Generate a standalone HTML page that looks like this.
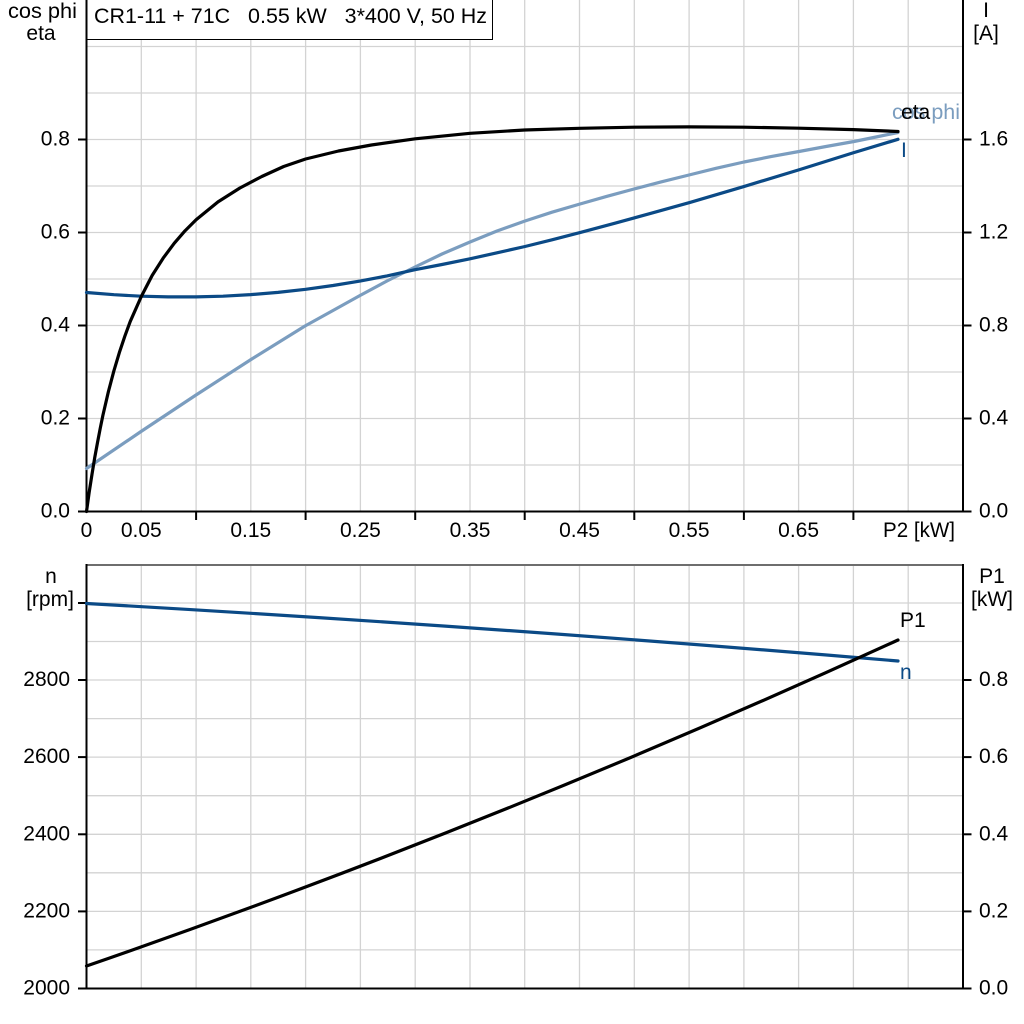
<!DOCTYPE html>
<html>
<head>
<meta charset="utf-8">
<style>
  html, body { margin: 0; padding: 0; background: #ffffff; }
  svg { display: block; }
  text { font-family: "Liberation Sans", Arial, sans-serif; font-size: 21px; fill: #000; }
</style>
</head>
<body>
<svg width="1024" height="1024" viewBox="0 0 1024 1024" xmlns="http://www.w3.org/2000/svg">
  <rect x="0" y="0" width="1024" height="1024" fill="#ffffff"/>

  <!-- ============ TOP PANEL GRID ============ -->
  <g stroke="#d3d3d3" stroke-width="1.3" fill="none">
    <line x1="141.3" y1="0" x2="141.3" y2="511.5"/>
    <line x1="196.1" y1="0" x2="196.1" y2="511.5"/>
    <line x1="250.8" y1="0" x2="250.8" y2="511.5"/>
    <line x1="305.6" y1="0" x2="305.6" y2="511.5"/>
    <line x1="360.4" y1="0" x2="360.4" y2="511.5"/>
    <line x1="415.2" y1="0" x2="415.2" y2="511.5"/>
    <line x1="470" y1="0" x2="470" y2="511.5"/>
    <line x1="524.7" y1="0" x2="524.7" y2="511.5"/>
    <line x1="579.5" y1="0" x2="579.5" y2="511.5"/>
    <line x1="634.3" y1="0" x2="634.3" y2="511.5"/>
    <line x1="689.1" y1="0" x2="689.1" y2="511.5"/>
    <line x1="743.9" y1="0" x2="743.9" y2="511.5"/>
    <line x1="798.6" y1="0" x2="798.6" y2="511.5"/>
    <line x1="853.4" y1="0" x2="853.4" y2="511.5"/>
    <line x1="908.2" y1="0" x2="908.2" y2="511.5"/>
    <line x1="86.5" y1="465" x2="963" y2="465"/>
    <line x1="86.5" y1="418.5" x2="963" y2="418.5"/>
    <line x1="86.5" y1="372" x2="963" y2="372"/>
    <line x1="86.5" y1="325.5" x2="963" y2="325.5"/>
    <line x1="86.5" y1="279" x2="963" y2="279"/>
    <line x1="86.5" y1="232.5" x2="963" y2="232.5"/>
    <line x1="86.5" y1="186" x2="963" y2="186"/>
    <line x1="86.5" y1="139.5" x2="963" y2="139.5"/>
    <line x1="86.5" y1="93" x2="963" y2="93"/>
    <line x1="86.5" y1="46.5" x2="963" y2="46.5"/>
  </g>

  <!-- ============ BOTTOM PANEL GRID ============ -->
  <g stroke="#d3d3d3" stroke-width="1.3" fill="none">
    <line x1="141.3" y1="565" x2="141.3" y2="988.5"/>
    <line x1="196.1" y1="565" x2="196.1" y2="988.5"/>
    <line x1="250.8" y1="565" x2="250.8" y2="988.5"/>
    <line x1="305.6" y1="565" x2="305.6" y2="988.5"/>
    <line x1="360.4" y1="565" x2="360.4" y2="988.5"/>
    <line x1="415.2" y1="565" x2="415.2" y2="988.5"/>
    <line x1="470" y1="565" x2="470" y2="988.5"/>
    <line x1="524.7" y1="565" x2="524.7" y2="988.5"/>
    <line x1="579.5" y1="565" x2="579.5" y2="988.5"/>
    <line x1="634.3" y1="565" x2="634.3" y2="988.5"/>
    <line x1="689.1" y1="565" x2="689.1" y2="988.5"/>
    <line x1="743.9" y1="565" x2="743.9" y2="988.5"/>
    <line x1="798.6" y1="565" x2="798.6" y2="988.5"/>
    <line x1="853.4" y1="565" x2="853.4" y2="988.5"/>
    <line x1="908.2" y1="565" x2="908.2" y2="988.5"/>
    <line x1="86.5" y1="949.9" x2="963" y2="949.9"/>
    <line x1="86.5" y1="911.4" x2="963" y2="911.4"/>
    <line x1="86.5" y1="872.8" x2="963" y2="872.8"/>
    <line x1="86.5" y1="834.3" x2="963" y2="834.3"/>
    <line x1="86.5" y1="795.7" x2="963" y2="795.7"/>
    <line x1="86.5" y1="757.1" x2="963" y2="757.1"/>
    <line x1="86.5" y1="718.6" x2="963" y2="718.6"/>
    <line x1="86.5" y1="680" x2="963" y2="680"/>
    <line x1="86.5" y1="641.5" x2="963" y2="641.5"/>
    <line x1="86.5" y1="603" x2="963" y2="603"/>
  </g>

  <!-- ============ TITLE BOX ============ -->
  <rect x="86.5" y="-1" width="406" height="40.5" fill="#ffffff" stroke="#000" stroke-width="1"/>
  <text x="94" y="23" textLength="393" lengthAdjust="spacingAndGlyphs">CR1-11 + 71C&#160;&#160;&#160;0.55 kW&#160;&#160;&#160;3*400 V, 50 Hz</text>

  <!-- ============ TOP PANEL AXES ============ -->
  <g stroke="#000" stroke-width="2" fill="none">
    <line x1="86.5" y1="0" x2="86.5" y2="512.5"/>
    <line x1="963" y1="0" x2="963" y2="512.5"/>
    <line x1="85.5" y1="511.5" x2="964" y2="511.5"/>
    <line x1="78" y1="511.5" x2="86.5" y2="511.5"/>
    <line x1="78" y1="418.5" x2="86.5" y2="418.5"/>
    <line x1="78" y1="325.5" x2="86.5" y2="325.5"/>
    <line x1="78" y1="232.5" x2="86.5" y2="232.5"/>
    <line x1="78" y1="139.5" x2="86.5" y2="139.5"/>
    <line x1="963" y1="511.5" x2="971.5" y2="511.5"/>
    <line x1="963" y1="418.5" x2="971.5" y2="418.5"/>
    <line x1="963" y1="325.5" x2="971.5" y2="325.5"/>
    <line x1="963" y1="232.5" x2="971.5" y2="232.5"/>
    <line x1="963" y1="139.5" x2="971.5" y2="139.5"/>
    <line x1="196.1" y1="511.5" x2="196.1" y2="520"/>
    <line x1="305.6" y1="511.5" x2="305.6" y2="520"/>
    <line x1="415.2" y1="511.5" x2="415.2" y2="520"/>
    <line x1="524.7" y1="511.5" x2="524.7" y2="520"/>
    <line x1="634.3" y1="511.5" x2="634.3" y2="520"/>
    <line x1="743.9" y1="511.5" x2="743.9" y2="520"/>
    <line x1="853.4" y1="511.5" x2="853.4" y2="520"/>
  </g>

  <text x="8" y="18" textLength="69" lengthAdjust="spacingAndGlyphs">cos phi</text>
  <text x="41" y="40" text-anchor="middle">eta</text>
  <text x="986" y="17" text-anchor="middle">I</text>
  <text x="986" y="40" text-anchor="middle">[A]</text>

  <g text-anchor="end">
    <text x="70" y="517.5">0.0</text>
    <text x="70" y="424.5">0.2</text>
    <text x="70" y="331.5">0.4</text>
    <text x="70" y="238.5">0.6</text>
    <text x="70" y="145.5">0.8</text>
  </g>
  <g>
    <text x="979" y="517.5">0.0</text>
    <text x="979" y="424.5">0.4</text>
    <text x="979" y="331.5">0.8</text>
    <text x="979" y="238.5">1.2</text>
    <text x="979" y="145.5">1.6</text>
  </g>
  <g text-anchor="middle">
    <text x="86.5" y="537">0</text>
    <text x="141.3" y="537">0.05</text>
    <text x="250.8" y="537">0.15</text>
    <text x="360.4" y="537">0.25</text>
    <text x="470" y="537">0.35</text>
    <text x="579.5" y="537">0.45</text>
    <text x="689.1" y="537">0.55</text>
    <text x="798.6" y="537">0.65</text>
  </g>
  <text x="883" y="537" textLength="72" lengthAdjust="spacingAndGlyphs">P2 [kW]</text>

  <!-- ============ TOP PANEL CURVES ============ -->
  <g fill="none" stroke-width="3.2" stroke-linejoin="round" stroke-linecap="round">
    <!-- cos phi -->
    <polyline stroke="#7b9dbf" points="86.5,468.5 141,431.5 196,395 251,359.5 305,326 333,310.5 360,295.5 387,281 415,267 442,254 470,242 497,231 525,221 552,212.2 580,204 607,196.3 634,189 661,181.9 689,175 716,168.3 744,162 771,156.6 799,151.5 826,146.5 854,141.5 876,137 898,132.5"/>
    <!-- I -->
    <polyline stroke="#0b4a86" points="86.5,292.5 114,294.7 141,296.2 168,296.9 196,296.9 223,296.2 250.7,294.6 278,292.4 305.7,289.3 333,285.5 360,281.1 387,275.9 415,269.7 442,264.5 470,258.8 497,252.8 525,246.5 552,239.8 580,232.6 615,223.2 650,213.6 690,202.4 743,186.8 800,169.5 853,152.9 898,139.3"/>
    <!-- eta -->
    <polyline stroke="#000000" points="86.5,511.5 89.2,492.1 92,474.3 94.7,457.8 97.5,442.6 100.2,428.5 102.9,415.3 108.4,391.6 113.9,370.8 119.4,352.4 124.9,336 130.3,321.3 141.3,296.5 152.2,275.4 163.2,258.1 174.2,243.3 185.1,230.7 196.1,219.8 218,201.9 239.9,188 261.8,176.5 283.7,166.5 305.6,159 338.5,151 371.4,145 415.2,138.8 470,133.3 524.7,130 579.5,128.3 634.3,127.2 689.1,126.9 743.9,127.2 798.6,128.2 853.4,129.6 898,131.5"/>
  </g>
  <text x="892" y="119" style="fill:#7b9dbf" textLength="68" lengthAdjust="spacingAndGlyphs">cos phi</text>
  <text x="901" y="119">eta</text>
  <text x="901" y="157" style="fill:#0b4a86">I</text>

  <!-- ============ BOTTOM PANEL AXES ============ -->
  <line x1="86.5" y1="565" x2="963" y2="565" stroke="#6e6e6e" stroke-width="2"/>
  <g stroke="#000" stroke-width="2" fill="none">
    <line x1="86.5" y1="564" x2="86.5" y2="989.5"/>
    <line x1="963" y1="564" x2="963" y2="989.5"/>
    <line x1="85.5" y1="988.5" x2="964" y2="988.5"/>
    <line x1="78" y1="603" x2="86.5" y2="603"/>
    <line x1="78" y1="680" x2="86.5" y2="680"/>
    <line x1="78" y1="757.1" x2="86.5" y2="757.1"/>
    <line x1="78" y1="834.3" x2="86.5" y2="834.3"/>
    <line x1="78" y1="911.4" x2="86.5" y2="911.4"/>
    <line x1="78" y1="988.5" x2="86.5" y2="988.5"/>
    <line x1="963" y1="680" x2="971.5" y2="680"/>
    <line x1="963" y1="757.1" x2="971.5" y2="757.1"/>
    <line x1="963" y1="834.3" x2="971.5" y2="834.3"/>
    <line x1="963" y1="911.4" x2="971.5" y2="911.4"/>
    <line x1="963" y1="988.5" x2="971.5" y2="988.5"/>
  </g>

  <text x="51" y="583" text-anchor="middle">n</text>
  <text x="50" y="606" text-anchor="middle">[rpm]</text>
  <text x="992" y="583" text-anchor="middle">P1</text>
  <text x="992" y="606" text-anchor="middle">[kW]</text>

  <g text-anchor="end">
    <text x="70" y="686">2800</text>
    <text x="70" y="763.1">2600</text>
    <text x="70" y="840.3">2400</text>
    <text x="70" y="917.4">2200</text>
    <text x="70" y="994.5">2000</text>
  </g>
  <g>
    <text x="979" y="686">0.8</text>
    <text x="979" y="763.1">0.6</text>
    <text x="979" y="840.3">0.4</text>
    <text x="979" y="917.4">0.2</text>
    <text x="979" y="994.5">0.0</text>
  </g>

  <!-- ============ BOTTOM PANEL CURVES ============ -->
  <g fill="none" stroke-width="3.2" stroke-linecap="round">
    <path stroke="#0b4a86" d="M86.5,603.5 Q492.25,626.55 898,661"/>
    <path stroke="#000000" d="M86.5,966 Q492.25,825.8 898,640"/>
  </g>
  <text x="900" y="627">P1</text>
  <text x="900" y="679" style="fill:#0b4a86">n</text>
</svg>
</body>
</html>
